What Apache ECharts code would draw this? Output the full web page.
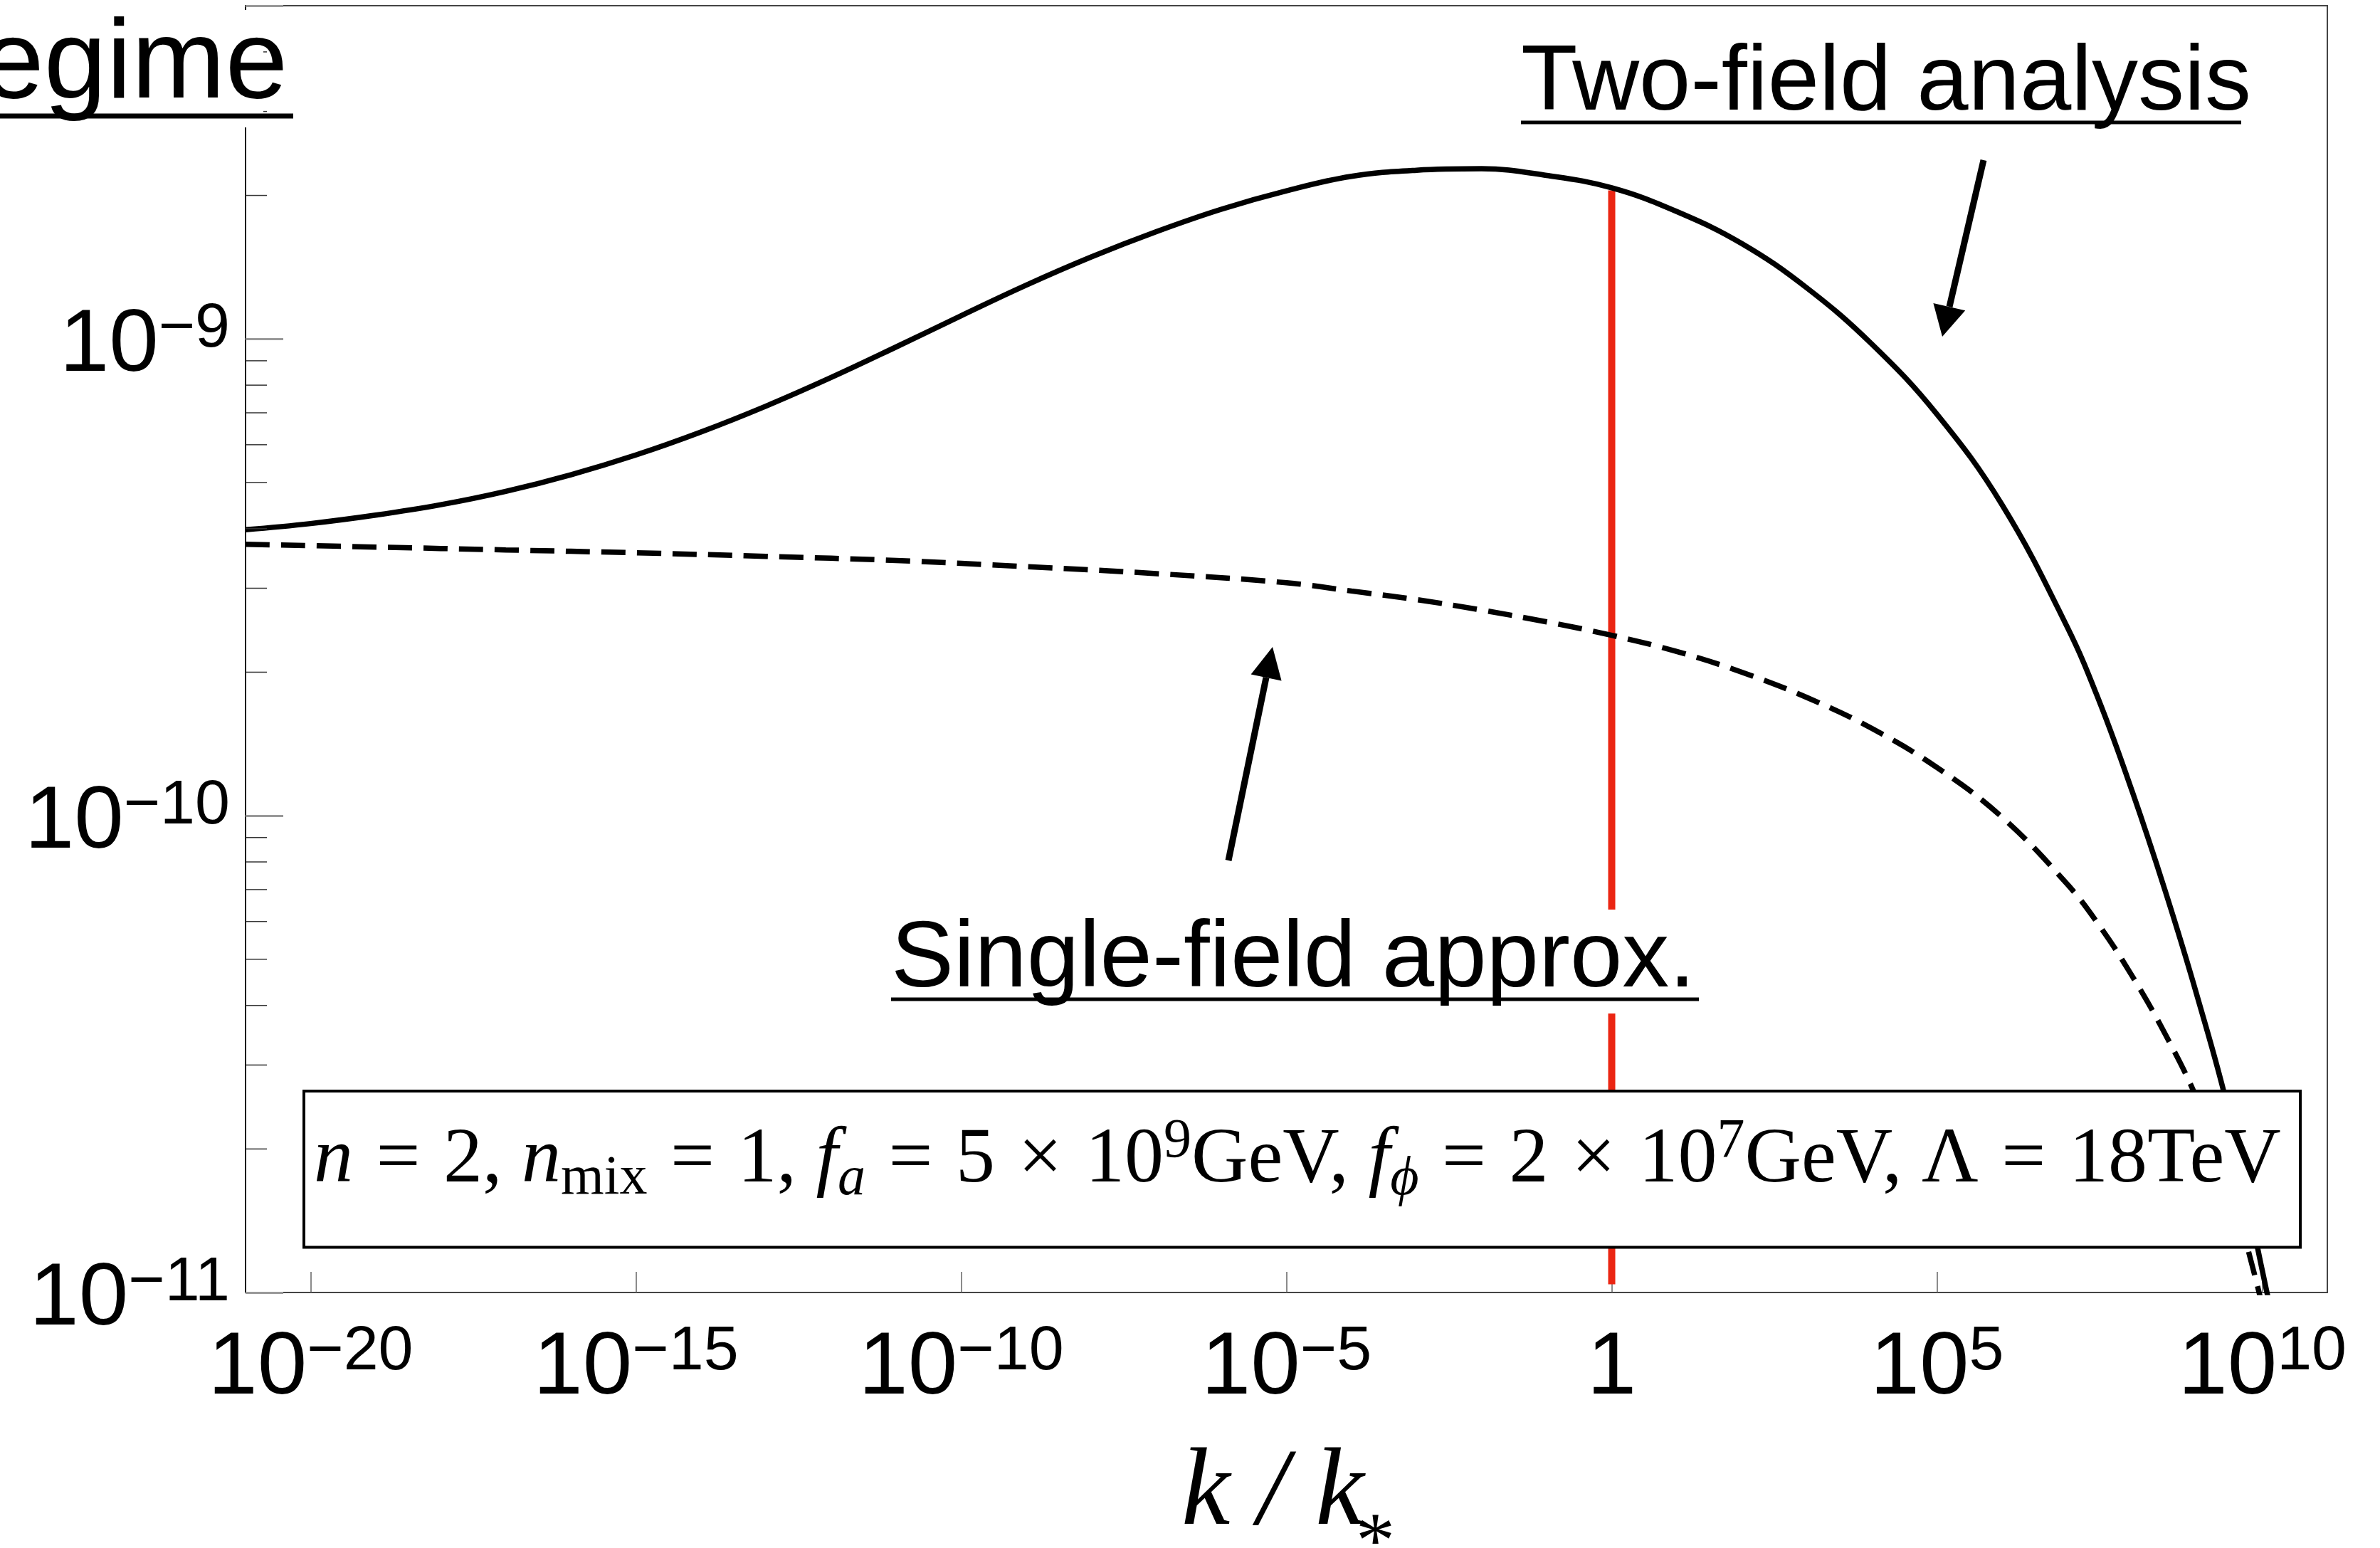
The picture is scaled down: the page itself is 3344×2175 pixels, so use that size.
<!DOCTYPE html>
<html>
<head>
<meta charset="utf-8">
<title>Power spectrum vs k/k*</title>
<script src="https://cdn.jsdelivr.net/npm/echarts@6/dist/echarts.min.js"></script>
<style>
  html, body { margin: 0; padding: 0; background: #ffffff; }
  #chart { width: 3344px; height: 2175px; }
</style>
</head>
<body>
<div id="chart"></div>
<script>
// ---- data ----------------------------------------------------------------
// Two-field analysis (solid curve): k/k* and spectrum value
const kTwoField = [1e-21, 1e-20, 1e-19, 1e-18, 1e-17, 1e-16, 1e-15, 1e-14, 1e-13, 1e-12,
  1e-11, 1e-10, 1e-9, 1e-8, 1e-7, 1e-6, 1e-5, 1e-4, 1e-3, 1e-2, 1e-1, 1, 1e1, 1e2, 1e3,
  1e4, 1e5, 1e6, 1e7, 3.16e7, 1e8, 3.16e8, 1e9, 3.16e9, 1e10, 1.58e10];
const pTwoField = [3.98e-10, 4.10e-10, 4.27e-10, 4.49e-10, 4.79e-10, 5.19e-10, 5.71e-10, 6.38e-10,
  7.23e-10, 8.30e-10, 9.62e-10, 1.119e-9, 1.297e-9, 1.486e-9, 1.679e-9, 1.871e-9, 2.045e-9,
  2.193e-9, 2.259e-9, 2.275e-9, 2.203e-9, 2.075e-9, 1.850e-9, 1.585e-9, 1.279e-9, 9.75e-10,
  6.95e-10, 4.49e-10, 2.49e-10, 1.730e-10, 1.125e-10, 7.01e-11, 4.18e-11, 2.35e-11, 1.112e-11, 8.3e-12];

// Single-field approximation (dashed curve)
const kSingleField = [1e-21, 1e-19, 1e-17, 1e-15, 1e-13, 1e-11, 1e-9, 1e-7, 1e-5, 1e-4, 1e-3,
  1e-2, 1e-1, 1, 1e1, 1e2, 1e3, 1e4, 1e5, 1e6, 1e7, 3.16e7, 1e8, 3.16e8, 1e9, 3.16e9, 1e10];
const pSingleField = [3.71e-10, 3.66e-10, 3.61e-10, 3.56e-10, 3.50e-10, 3.43e-10, 3.33e-10,
  3.22e-10, 3.08e-10, 2.96e-10, 2.84e-10, 2.70e-10, 2.55e-10, 2.39e-10, 2.21e-10, 2.00e-10,
  1.770e-10, 1.524e-10, 1.262e-10, 9.93e-11, 7.19e-11, 5.87e-11, 4.61e-11, 3.50e-11,
  2.54e-11, 1.675e-11, 9.4e-12];

// Red marker at k = k*
const kMarker = [1, 1];
const pMarker = [1.04e-11, 2.05e-9];

// Axis ranges and ticks
const kRange = [1e-21, 1e11];
const pRange = [1e-11, 5e-9];
const xTickExponents = [-20, 10];   // first / last labelled exponent
const xTickStep = 5;
const yMinorTicks = [2e-11, 3e-11, 4e-11, 5e-11, 6e-11, 7e-11, 8e-11, 9e-11,
  2e-10, 3e-10, 4e-10, 5e-10, 6e-10, 7e-10, 8e-10, 9e-10, 2e-9, 3e-9, 4e-9];

// ---- helpers ---------------------------------------------------------------
const zip = (xs, ys) => xs.map((x, i) => [x, ys[i]]);
const SANS = '"Liberation Sans", Arial, Helvetica, sans-serif';
const SERIF = '"Liberation Serif", "Times New Roman", Times, serif';
const MINUS = '\u2212';

const powRich = {
  b: { fontFamily: SANS, fontSize: 125, lineHeight: 130, verticalAlign: 'bottom', color: '#000' },
  s: { fontFamily: SANS, fontSize: 88, lineHeight: 48, verticalAlign: 'top', color: '#000' }
};
function powLabel(e) {
  if (e === 0) return '{b|1}';
  return '{b|10}{s|' + (e < 0 ? MINUS + (-e) : String(e)) + '}';
}

// ---- chart -----------------------------------------------------------------
const chart = echarts.init(document.getElementById('chart'), null, { renderer: 'canvas' });

const BLACK = '#000000';
const TXT = (s, px) => px + 'px ' + s;
const ITXT = (s, px) => 'italic ' + px + 'px ' + s;

const option = {
  animation: false,
  backgroundColor: '#ffffff',
  grid: [
    { left: 345, right: 74, top: 8, bottom: 359, show: true, borderColor: '#444', borderWidth: 2 },
    { left: 436.406, right: 165.406, top: 8, bottom: 359, show: false }
  ],
  xAxis: [
    {
      gridIndex: 0, type: 'log', logBase: 10, min: kRange[0], max: kRange[1],
      axisLine: { show: true, onZero: false, lineStyle: { color: '#444', width: 2 } },
      axisTick: { show: false }, axisLabel: { show: false }, splitLine: { show: false }
    },
    {
      // labelled exponent axis aligned with the log axis above
      gridIndex: 1, type: 'value', min: xTickExponents[0], max: xTickExponents[1], interval: xTickStep,
      position: 'bottom',
      axisLine: { show: false },
      axisTick: { show: true, inside: true, length: 29, lineStyle: { color: '#666', width: 1.5 } },
      splitLine: { show: false },
      axisLabel: { margin: 40, formatter: v => powLabel(Math.round(v)), rich: powRich }
    }
  ],
  yAxis: [
    {
      gridIndex: 0, type: 'log', logBase: 10, min: pRange[0], max: pRange[1],
      axisLine: { show: true, onZero: false, lineStyle: { color: '#111', width: 2 } },
      axisTick: { show: true, inside: true, length: 53, lineStyle: { color: '#999', width: 3 } },
      splitLine: { show: false },
      axisLabel: {
        margin: 22,
        padding: [16, 0, 0, 0],
        formatter: v => {
          const e = Math.log10(v);
          const r = Math.round(e);
          return Math.abs(e - r) < 1e-6 ? powLabel(r) : '';
        },
        rich: powRich
      }
    },
    { gridIndex: 1, type: 'value', show: false, min: 0, max: 1 }
  ],
  series: [
    {
      name: 'k = k*', type: 'line', xAxisIndex: 0, yAxisIndex: 0,
      data: zip(kMarker, pMarker), showSymbol: false, symbol: 'none',
      lineStyle: { color: '#eb2512', width: 10 }, z: 1, silent: true
    },
    {
      name: 'Single-field approx.', type: 'line', xAxisIndex: 0, yAxisIndex: 0,
      data: zip(kSingleField, pSingleField), showSymbol: false, symbol: 'none', smooth: 0.4,
      lineStyle: { color: BLACK, width: 7.5, type: [34, 16] }, z: 3, silent: true
    },
    {
      name: 'Two-field analysis', type: 'line', xAxisIndex: 0, yAxisIndex: 0,
      data: zip(kTwoField, pTwoField), showSymbol: false, symbol: 'none', smooth: 0.4,
      lineStyle: { color: BLACK, width: 7.5 }, z: 4, silent: true
    },
    {
      // minor ticks at 2..9 x 10^n on the left frame
      name: 'minor ticks', type: 'custom', xAxisIndex: 0, yAxisIndex: 0,
      data: yMinorTicks.map(v => [kRange[0], v]),
      renderItem: (params, api) => {
        const p = api.coord([api.value(0), api.value(1)]);
        return {
          type: 'line',
          shape: { x1: p[0], y1: p[1], x2: p[0] + 30, y2: p[1] },
          style: { stroke: '#333', lineWidth: 1.5 }
        };
      },
      clip: false, silent: true, z: 5
    }
  ],
  graphic: [
    // fragment of the neighbouring panel title
    { type: 'rect', z: 100, shape: { x: 330, y: 14, width: 40, height: 165 }, style: { fill: '#fff' } },
    { type: 'text', z: 101, x: -26, y: 148 - 0.3465 * 158,
      style: { text: 'egime', font: TXT(SANS, 158), fill: BLACK, align: 'left', verticalAlign: 'middle' } },
    { type: 'rect', z: 101, shape: { x: 0, y: 159.5, width: 412, height: 7 }, style: { fill: BLACK } },

    // x-axis title k / k_*
    { type: 'text', z: 101, x: 1660, y: 2152 - 0.3375 * 154,
      style: { text: 'k / k', font: ITXT(SERIF, 154), fill: BLACK, align: 'left', verticalAlign: 'middle' } },
    { type: 'text', z: 101, x: 1905, y: 2172,
      style: { text: '*', font: TXT(SERIF, 110), fill: BLACK, align: 'left', verticalAlign: 'middle' } },

    // "Two-field analysis" label and arrow
    { type: 'text', z: 101, x: 2137, y: 163 - 0.3465 * 130,
      style: { text: 'Two-field analysis', font: TXT(SANS, 130), fill: BLACK, align: 'left', verticalAlign: 'middle' } },
    { type: 'rect', z: 101, shape: { x: 2137, y: 169.5, width: 1012, height: 5 }, style: { fill: BLACK } },
    { type: 'line', z: 101, shape: { x1: 2787, y1: 225, x2: 2739, y2: 431 }, style: { stroke: BLACK, lineWidth: 9 } },
    { type: 'polygon', z: 101, shape: { points: [[2729, 473], [2761.2, 436.3], [2716.4, 425.9]] }, style: { fill: BLACK } },

    // "Single-field approx." label and arrow
    { type: 'rect', z: 100, shape: { x: 1240, y: 1278, width: 1155, height: 146 }, style: { fill: '#fff' } },
    { type: 'text', z: 101, x: 1252, y: 1395 - 0.3465 * 132,
      style: { text: 'Single-field approx.', font: TXT(SANS, 132), fill: BLACK, align: 'left', verticalAlign: 'middle' } },
    { type: 'rect', z: 101, shape: { x: 1252, y: 1401.5, width: 1135, height: 5 }, style: { fill: BLACK } },
    { type: 'line', z: 101, shape: { x1: 1726, y1: 1209, x2: 1779, y2: 952 }, style: { stroke: BLACK, lineWidth: 9 } },
    { type: 'polygon', z: 101, shape: { points: [[1788, 909], [1800.6, 956.6], [1757.6, 947.6]] }, style: { fill: BLACK } },

    // parameter box
    { type: 'rect', z: 100, shape: { x: 427, y: 1533, width: 2805, height: 219.5 },
      style: { fill: '#fff', stroke: BLACK, lineWidth: 4 } },
    { type: 'text', z: 101, x: 441, y: 1631,
      style: {
        text: '{i|n}{op|=}{r|2, }{i|n}{sub|mix}{op|=}{r|1, }{i|f}{subi|a}{op|=}{r|5}{op|\u00d7}{r|10}{sup|9}{r|GeV, }' +
              '{i|f}{subi|\u03d5}{op|=}{r|2}{op|\u00d7}{r|10}{sup|7}{r|GeV, \u039b}{op|=}{r|18TeV}',
        align: 'left', verticalAlign: 'middle',
        rich: {
          i: { fontFamily: SERIF, fontStyle: 'italic', fontSize: 110, lineHeight: 130, verticalAlign: 'middle', fill: BLACK },
          r: { fontFamily: SERIF, fontSize: 110, lineHeight: 130, verticalAlign: 'middle', fill: BLACK },
          op: { fontFamily: SERIF, fontSize: 110, lineHeight: 130, verticalAlign: 'middle', padding: [0, 32.5], fill: BLACK },
          sub: { fontFamily: SERIF, fontSize: 78, lineHeight: 53, verticalAlign: 'bottom', fill: BLACK },
          subi: { fontFamily: SERIF, fontStyle: 'italic', fontSize: 78, lineHeight: 53, verticalAlign: 'bottom', fill: BLACK },
          sup: { fontFamily: SERIF, fontSize: 78, lineHeight: 73, verticalAlign: 'top', fill: BLACK }
        }
      }
    }
  ]
};

chart.setOption(option);
</script>
</body>
</html>
